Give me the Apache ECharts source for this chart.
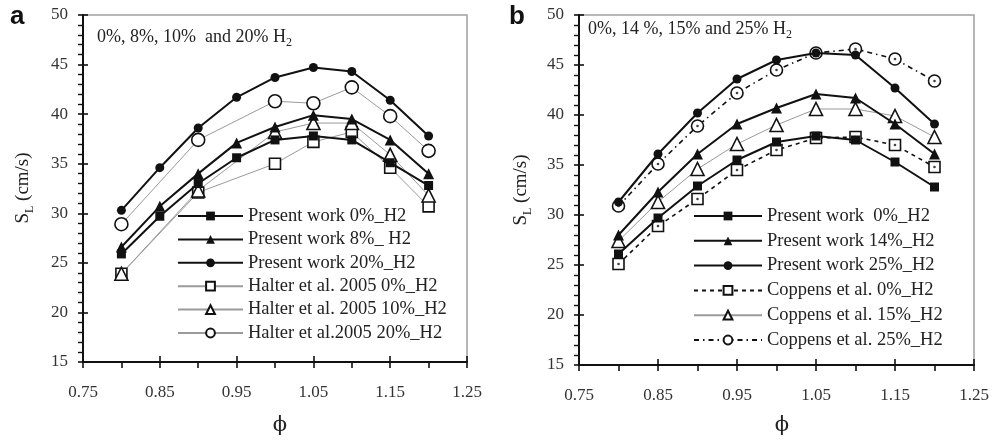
<!DOCTYPE html>
<html><head><meta charset="utf-8">
<script src="https://cdn.jsdelivr.net/npm/echarts@6/dist/echarts.min.js"></script>
<style>html,body{margin:0;padding:0;background:#fff}#c{width:993px;height:440px}</style>
</head><body><div id="c"></div>
<script>
// ---- data ----
const phi = [0.80, 0.85, 0.90, 0.95, 1.00, 1.05, 1.10, 1.15, 1.20];
const phiHalter = [0.80, 0.90, 1.00, 1.05, 1.10, 1.15, 1.20];
const xTickLabels = [0.75, 0.85, 0.95, 1.05, 1.15, 1.25];

// panel a
const pw0a = [25.9, 29.7, 33.0, 35.6, 37.4, 37.8, 37.4, 35.1, 32.8];
const pw8a = [26.6, 30.7, 34.0, 37.1, 38.7, 39.9, 39.5, 37.4, 34.0];
const pw20a = [30.3, 34.6, 38.6, 41.7, 43.7, 44.7, 44.3, 41.4, 37.8];
const halter0 = [23.9, 32.1, 35.0, 37.2, 38.2, 34.6, 30.7];
const halter10 = [23.9, 32.3, 38.2, 39.1, 39.1, 35.9, 31.8];
const halter20 = [28.9, 37.4, 41.3, 41.1, 42.7, 39.8, 36.3];

// panel b
const pw0b = [26.1, 29.7, 32.9, 35.5, 37.3, 37.9, 37.5, 35.3, 32.8];
const pw14b = [28.0, 32.3, 36.1, 39.1, 40.7, 42.1, 41.7, 39.1, 36.1];
const pw25b = [31.3, 36.1, 40.2, 43.6, 45.5, 46.2, 46.0, 42.7, 39.1];
const coppens0 = [25.1, 28.9, 31.6, 34.5, 36.5, 37.7, 37.8, 37.0, 34.8];
const coppens15 = [27.4, 31.3, 34.6, 37.1, 39.0, 40.6, 40.6, 39.9, 37.8];
const coppens25 = [30.9, 35.1, 38.9, 42.2, 44.5, 46.2, 46.6, 45.6, 43.4];

const namesA = ['Present work 0%_H2', 'Present work 8%_ H2', 'Present work 20%_H2',
  'Halter et al. 2005 0%_H2', 'Halter et al. 2005 10%_H2', 'Halter et al.2005 20%_H2'];
const namesB = ['Present work  0%_H2', 'Present work 14%_H2', 'Present work 25%_H2',
  'Coppens et al. 0%_H2', 'Coppens et al. 15%_H2', 'Coppens et al. 25%_H2'];

// ---- helpers ----
const FONT = 'Liberation Serif';
const pairs = (xs, ys) => xs.map((x, i) => [x, ys[i]]);

function mkX(grid, inner) {
  return {
    type: 'value', gridIndex: grid, min: 0.75, max: 1.25, interval: 0.05, position: 'bottom',
    axisLine: { show: !inner, onZero: false, lineStyle: { color: '#111', width: 2 } },
    axisTick: inner
      ? { show: true, inside: true, length: 6, lineStyle: { color: '#111', width: 1.6 }, customValues: xTickLabels }
      : { show: true, inside: false, length: 6, lineStyle: { color: '#111', width: 1.6 } },
    axisLabel: inner ? { show: false } : {
      show: true, margin: 22, color: '#333', fontFamily: FONT, fontSize: 17,
      formatter: v => (Math.round(v * 100) % 10 === 5 ? v.toFixed(2) : '')
    },
    splitLine: { show: false }, minorTick: { show: false }
  };
}
function mkY(grid, inner) {
  return {
    type: 'value', gridIndex: grid, min: 15, max: 50, interval: 5, position: 'left',
    axisLine: { show: !inner, onZero: false, lineStyle: { color: '#111', width: 2 } },
    axisTick: { show: true, inside: !!inner, length: 5, lineStyle: { color: '#111', width: 1.6 } },
    minorTick: inner ? { show: false } : { show: true, splitNumber: 5, length: 5, lineStyle: { color: '#111', width: 1.4 } },
    axisLabel: inner ? { show: false } : { show: true, margin: 15, color: '#333', fontFamily: FONT, fontSize: 17 },
    splitLine: { show: false }
  };
}
function present(name, ax, xs, ys, sym, size) {
  return {
    name, type: 'line', xAxisIndex: ax, yAxisIndex: ax, data: pairs(xs, ys), z: 4,
    symbol: sym, symbolSize: size, showSymbol: true,
    lineStyle: { color: '#111', width: 2 }, itemStyle: { color: '#111', borderWidth: 0 }
  };
}
function ref(name, ax, xs, ys, sym, size, line) {
  return {
    name, type: 'line', xAxisIndex: ax, yAxisIndex: ax, data: pairs(xs, ys), z: 3,
    symbol: sym, symbolSize: size, showSymbol: true,
    lineStyle: line, itemStyle: { color: '#fff', borderColor: '#111', borderWidth: 1.6 }
  };
}
function dots(ax, xs, ys) {
  return {
    name: 'dot' + ax + ys[0], type: 'scatter', xAxisIndex: ax, yAxisIndex: ax, data: pairs(xs, ys), z: 6,
    symbol: 'circle', symbolSize: 2.6, itemStyle: { color: '#111' }, silent: true
  };
}

const greyLine = { color: '#9a9a9a', width: 1 };
const series = [
  // panel a (axes 0)
  ref(namesA[3], 0, phiHalter, halter0, 'rect', 11, greyLine),
  ref(namesA[4], 0, phiHalter, halter10, 'triangle', 13, greyLine),
  ref(namesA[5], 0, phiHalter, halter20, 'circle', 13, greyLine),
  present(namesA[0], 0, phi, pw0a, 'rect', 9),
  present(namesA[1], 0, phi, pw8a, 'triangle', 11),
  present(namesA[2], 0, phi, pw20a, 'circle', 9),
  // panel b (axes 2)
  ref(namesB[3], 2, phi, coppens0, 'rect', 11, { color: '#111', width: 1.6, type: [4, 4] }),
  ref(namesB[4], 2, phi, coppens15, 'triangle', 13, greyLine),
  ref(namesB[5], 2, phi, coppens25, 'circle', 12, { color: '#111', width: 1.6, type: [5, 4, 1.5, 4] }),
  present(namesB[0], 2, phi, pw0b, 'rect', 9),
  present(namesB[1], 2, phi, pw14b, 'triangle', 11),
  present(namesB[2], 2, phi, pw25b, 'circle', 9),
  dots(2, phi, coppens0),
  dots(2, phi, coppens25)
];

const legendText = { fontFamily: FONT, fontSize: 18.5, color: '#222' };
const subRich = {
  m: { fontFamily: FONT, fontSize: 18, lineHeight: 24, fill: '#222' },
  sub: { fontFamily: FONT, fontSize: 12, lineHeight: 12, verticalAlign: 'bottom', fill: '#222' }
};
const subRichY = {
  m: { fontFamily: FONT, fontSize: 19, lineHeight: 26, fill: '#222' },
  sub: { fontFamily: FONT, fontSize: 12, lineHeight: 12, verticalAlign: 'bottom', fill: '#222' }
};

const option = {
  animation: false,
  backgroundColor: '#fff',
  textStyle: { fontFamily: FONT },
  grid: [
    { left: 83, right: 526, top: 15, bottom: 78, show: true, borderColor: '#a0a0a0', borderWidth: 1.5, backgroundColor: 'transparent' },
    { left: 579, right: 19, top: 15, bottom: 75, show: true, borderColor: '#a0a0a0', borderWidth: 1.5, backgroundColor: 'transparent' }
  ],
  xAxis: [mkX(0, false), mkX(0, true), mkX(1, false), mkX(1, true)],
  yAxis: [mkY(0, false), mkY(0, true), mkY(1, false), mkY(1, true)],
  legend: [
    { data: namesA, orient: 'vertical', left: 177, top: 206.5, itemWidth: 65, itemHeight: 11, itemGap: 4.4,
      textStyle: legendText, selectedMode: false, padding: 0 },
    { data: namesB, orient: 'vertical', left: 693, top: 206.5, itemWidth: 68, itemHeight: 11, itemGap: 5.8,
      textStyle: legendText, selectedMode: false, padding: 0 }
  ],
  graphic: [
    { type: 'text', left: 10, top: 4, style: { text: 'a', font: 'bold 26px "Liberation Sans"', fill: '#111' } },
    { type: 'text', left: 509, top: 4, style: { text: 'b', font: 'bold 26px "Liberation Sans"', fill: '#111' } },
    { type: 'text', x: 97, y: 37, style: { text: '{m|0%, 8%, 10%  and 20% H}{sub|2}', rich: subRich, verticalAlign: 'middle' } },
    { type: 'text', x: 588, y: 29, style: { text: '{m|0%, 14 %, 15% and 25% H}{sub|2}', rich: subRich, verticalAlign: 'middle' } },
    { type: 'text', x: 23, y: 188, rotation: Math.PI / 2, style: { text: '{m|S}{sub|L}{m| (cm/s)}', rich: subRichY, align: 'center', verticalAlign: 'middle' } },
    { type: 'text', x: 521, y: 190, rotation: Math.PI / 2, style: { text: '{m|S}{sub|L}{m| (cm/s)}', rich: subRichY, align: 'center', verticalAlign: 'middle' } },
    { type: 'text', x: 280, y: 426, style: { text: '\u03D5', font: '21px "DejaVu Serif"', fill: '#222', align: 'center', verticalAlign: 'middle' } },
    { type: 'text', x: 782, y: 426, style: { text: '\u03D5', font: '21px "DejaVu Serif"', fill: '#222', align: 'center', verticalAlign: 'middle' } }
  ],
  series
};
const chart = echarts.init(document.getElementById('c'), null, { renderer: 'canvas' });
chart.setOption(option);
</script></body></html>
